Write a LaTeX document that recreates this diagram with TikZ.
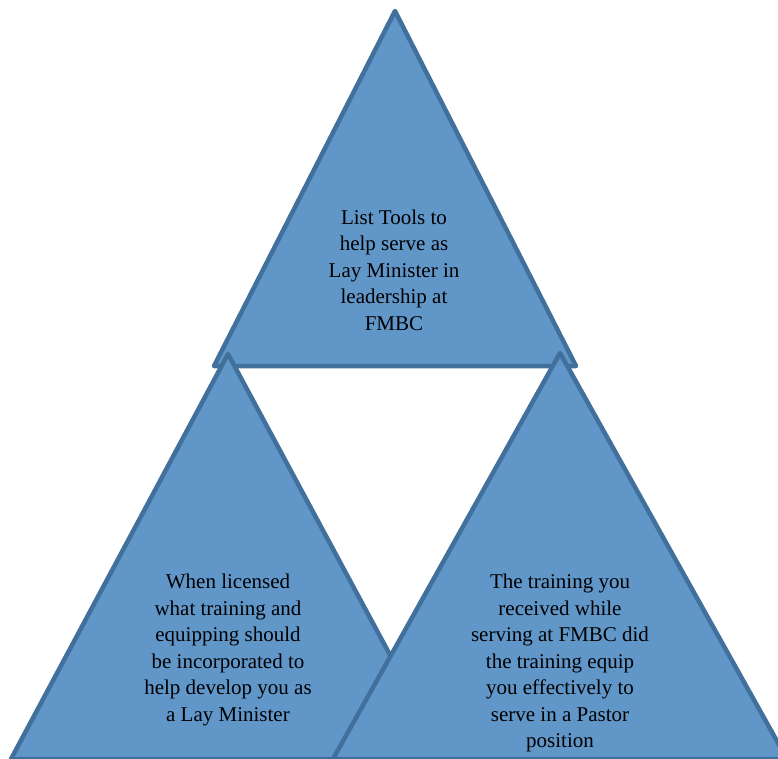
\documentclass[tikz,border=0pt]{standalone}
\usepackage{fontspec}
\newfontfamily\tnr{LiberationSerif-Regular.ttf}
\definecolor{trifill}{RGB}{97,150,200}
\definecolor{triline}{RGB}{65,112,156}
\begin{document}
\begin{tikzpicture}[x=1pt,y=-1pt,
  tri/.style={fill=trifill,draw=triline,line width=4.5pt,line join=round},
  lbl/.style={align=center,inner sep=0pt,font=\tnr\fontsize{21}{26.5}\selectfont,text=black}]
\useasboundingbox (0,0) rectangle (778,759);
\begin{scope}
\clip (0,0) rectangle (778,759);
% top triangle
\coordinate (tA) at (395,11);
\coordinate (tB) at (214,366);
\coordinate (tC) at (576,366);
\draw[tri] (tA) -- (tB) -- (tC) -- cycle;
% left triangle
\coordinate (lA) at (228,354);
\coordinate (lB) at (11,759);
\coordinate (lC) at (446,759);
\draw[tri] (lA) -- (lB) -- (lC) -- cycle;
% right triangle
\coordinate (rA) at (560,353);
\coordinate (rB) at (333,759);
\coordinate (rC) at (787,759);
\draw[tri] (rA) -- (rB) -- (rC) -- cycle;
\end{scope}
\node[lbl] (ttext) at (394,270) {List Tools to\\help serve as\\Lay Minister in\\leadership at\\FMBC};
\node[lbl] (ltext) at (228,650) {When licensed\\what training and\\equipping should\\be incorporated to\\help develop you as\\a Lay Minister};
\node[lbl] (rtext) at (560,663) {The training you\\received while\\serving at FMBC did\\the training equip\\you effectively to\\serve in a Pastor\\position};
\end{tikzpicture}
\end{document}
